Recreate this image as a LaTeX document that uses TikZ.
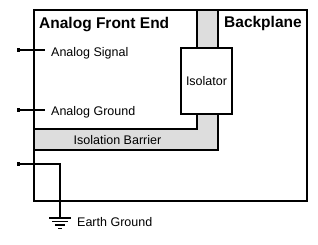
\documentclass[tikz,border=0pt]{standalone}
\usepackage{fontspec}
\setmainfont{Liberation Sans}
\usetikzlibrary{positioning}
\definecolor{barfill}{RGB}{221,221,221}
\tikzset{
  boxline/.style={draw=black,line width=2pt},
  wireline/.style={draw=black,line width=1.4pt},
  labfont/.style={font=\fontsize{12.5}{14}\selectfont,inner sep=0pt},
  headfont/.style={font=\fontsize{15.5}{17}\selectfont\bfseries,inner sep=0pt},
}
\newcommand{\pinsq}[1]{\fill (#1) ++(-1.8,-1.6) rectangle ++(3.4,3.2);}

\begin{document}
\begin{tikzpicture}[x=1pt,y=-1pt]
  \useasboundingbox (0,0) rectangle (318,244);
  % isolation barrier band
  \fill[barfill] (197,10) -- (218,10) -- (218,150) -- (34,150) -- (34,129) -- (197,129) -- cycle;
  \draw[boxline] (197,10) -- (197,129) -- (34,129);
  \draw[boxline] (218,10) -- (218,150) -- (34,150);
  \draw[boxline,line width=2.4pt] (34,10) rectangle (307,201);
  \node[boxline,fill=white,minimum width=51pt,minimum height=66pt,labfont] (iso) at (206.5,81) {Isolator};
  % titles
  \node[headfont,anchor=base west] (afe) at (39,28) {Analog Front End};
  \node[headfont,anchor=base west] (bp) at (224,27) {Backplane};
  \node[labfont,anchor=base] (bar) at (117.5,144) {Isolation Barrier};
  % inputs
  \coordinate (sigin) at (18.5,50);
  \coordinate (sigend) at (45,50);
  \coordinate (gndin) at (18.5,110);
  \coordinate (gndend) at (45,110);
  \node[labfont,anchor=base west] (sig) at (51,56) {Analog Signal};
  \node[labfont,anchor=base west] (agnd) at (51,115) {Analog Ground};
  \draw[wireline] (sigin) -- (sigend);
  \draw[wireline] (gndin) -- (gndend);
  \pinsq{sigin}\pinsq{gndin}
  % earth
  \coordinate (earthin) at (18.5,164);
  \coordinate (earthbend) at (60,164);
  \coordinate (earth) at (60,218);
  \draw[wireline] (earthin) -- (earthbend) -- (earth);
  \pinsq{earthin}
  \draw[wireline] (49,218) -- (71,218);
  \draw[wireline] (52,221.5) -- (68,221.5);
  \draw[wireline] (55,225) -- (65,225);
  \draw[wireline] (58,228.5) -- (62,228.5);
  \node[labfont,anchor=base west] (egnd) at (77,226) {Earth Ground};
\end{tikzpicture}
\end{document}
